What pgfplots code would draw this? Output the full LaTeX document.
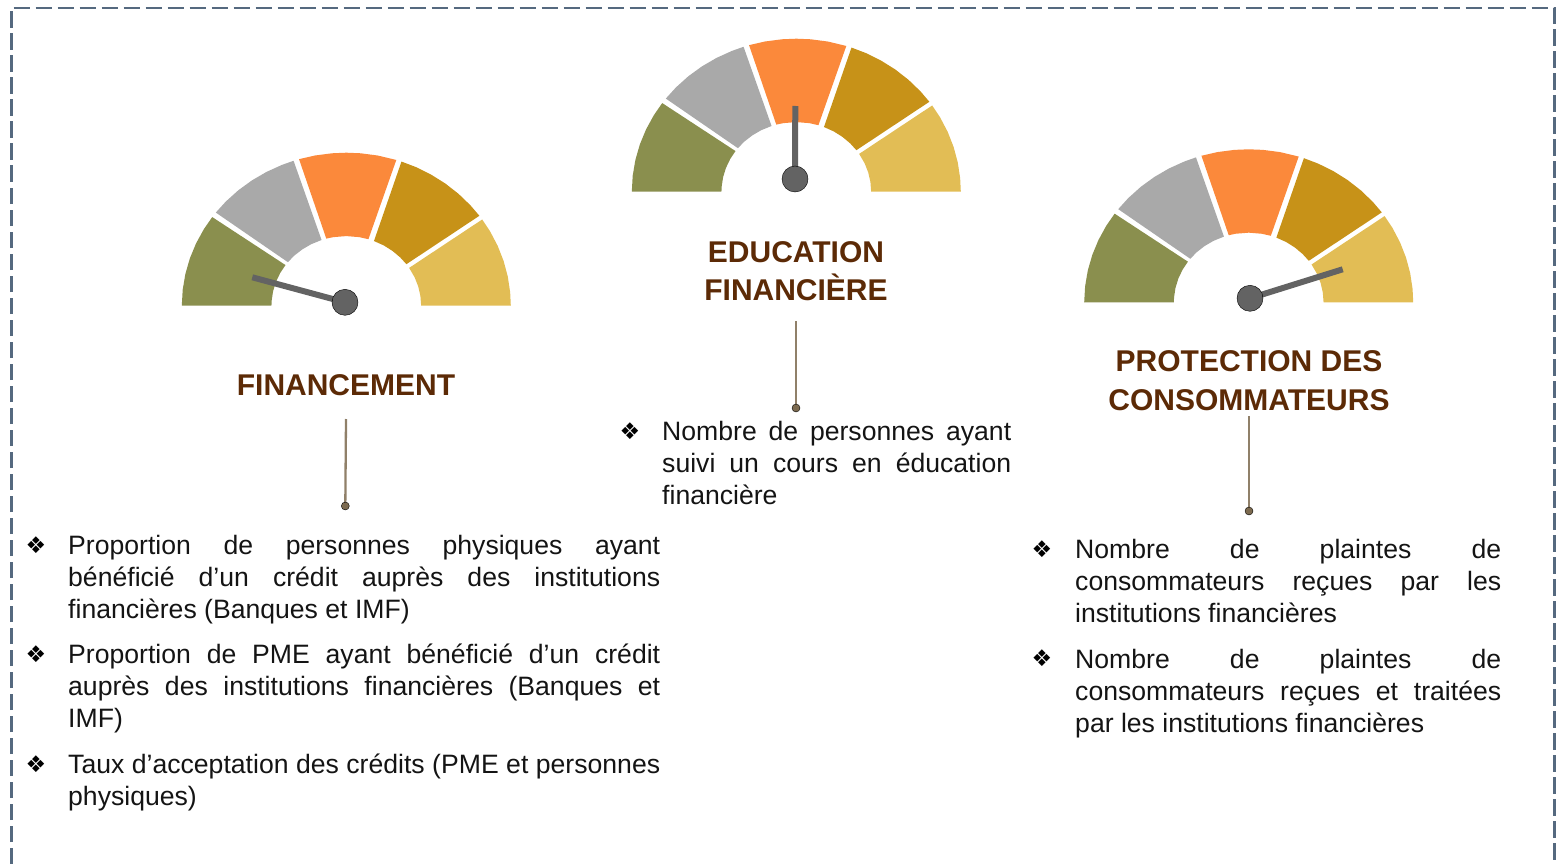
\documentclass[border=0pt]{standalone}
\usepackage{fontspec}
\setmainfont{Liberation Sans}
\newfontfamily\symfont{DejaVu Sans}
\usepackage{pgfplots}
\usepackage{pgfplotstable}
\pgfplotsset{compat=1.18}

\definecolor{sOlive}{HTML}{8A8F4E}
\definecolor{sGray}{HTML}{A9A9A9}
\definecolor{sOrange}{HTML}{FB893B}
\definecolor{sDark}{HTML}{C79218}
\definecolor{sGold}{HTML}{E2BD55}
\definecolor{needle}{HTML}{636363}
\definecolor{frame}{HTML}{55697F}
\definecolor{titlec}{HTML}{5C2A06}
\definecolor{stem}{HTML}{7C6A4F}

% segments: angle on the dial, radius as share of the outer radius
\pgfplotstableread{
t r
180 1
174 1
168 1
162 1
156 1
150 1
144.6 1
144.3 .455
152 .455
160 .455
168 .455
176 .455
180 .455
}\segA
\pgfplotstableread{
t r
142.5 1
137 1
131 1
125 1
119 1
113 1
108.7 1
109.3 .455
118 .455
126 .455
134 .455
141.3 .455
}\segB
\pgfplotstableread{
t r
106.7 1
101 1
95 1
90 1
85 1
79 1
72.3 1
72.8 .455
80 .455
90 .455
100 .455
105.5 .455
}\segC
\pgfplotstableread{
t r
70.4 1
65 1
59 1
53 1
47 1
41 1
36 1
36.6 .455
44 .455
52 .455
60 .455
68.3 .455
}\segD
\pgfplotstableread{
t r
34.3 1
29 1
23 1
17 1
11 1
5 1
0 1
0 .455
8 .455
16 .455
24 .455
32.9 .455
}\segE

\newcommand{\seg}[4]{% table, colour, cx, cy
  \addplot[fill=#2,draw=none,forget plot] table[
    x expr={#3+164.5*\thisrow{r}*cos(\thisrow{t})},
    y expr={#4-153*\thisrow{r}*sin(\thisrow{t})}] {#1} -- cycle;
}
\newcommand{\gauge}[2]{%
  \seg{\segA}{sOlive}{#1}{#2}
  \seg{\segB}{sGray}{#1}{#2}
  \seg{\segC}{sOrange}{#1}{#2}
  \seg{\segD}{sDark}{#1}{#2}
  \seg{\segE}{sGold}{#1}{#2}
}
\newcommand{\bodytext}[4]{% x, first baseline, width, text
  \node[anchor=base west,inner sep=0pt,text=black!92] at (axis cs:#1,#2)
    {\parbox[t]{#3pt}{\fontsize{26.6}{32}\selectfont #4\par}};
}
\newcommand{\puce}[2]{%
  \node[anchor=base,inner sep=0pt,text=black] at (axis cs:#1,#2)
    {\fontsize{23}{23}\symfont ❖};
}
\newcommand{\titre}[3]{%
  \node[anchor=base,inner sep=0pt,text=titlec] at (axis cs:#1,#2)
    {\fontsize{30}{30}\selectfont\bfseries #3};
}

\begin{document}
\begin{tikzpicture}
\begin{axis}[
    width=1556pt, height=864pt,
    scale only axis,
    hide axis,
    xmin=0, xmax=1556,
    ymin=0, ymax=864,
    y dir=reverse,
]
% keeps the page at the full size of the axis
\path (rel axis cs:0,0) rectangle (rel axis cs:1,1);
% dashed frame, open at the bottom
\addplot[frame,line width=2.5pt,dash pattern=on 16.5pt off 5.5pt] coordinates {
  (11.7,864) (11.7,8) (1554.3,8) (1554.3,864)};

\gauge{346.3}{305.7}
\gauge{796.3}{191.7}
\gauge{1248.7}{302.3}

% needles
\addplot[needle,line width=6pt] coordinates {(345,302.3) (252.3,277.3)};
\addplot[needle,line width=6pt] coordinates {(795,179) (795.3,106)};
\addplot[needle,line width=6pt] coordinates {(1250,298.3) (1342.7,269.3)};
\addplot[only marks,mark=*,mark size=13pt,mark options={fill=needle,draw=none}]
  coordinates {(345,302.3) (795,179) (1250,298.3)};

% stems under the titles
\addplot[stem!85,line width=2.3pt] coordinates {(346,419) (345.3,506)};
\addplot[stem!85,line width=2.3pt] coordinates {(796,321) (796,408)};
\addplot[stem!85,line width=2.3pt] coordinates {(1249,416) (1249,511)};
\addplot[only marks,mark=*,mark size=4pt,mark options={fill=stem,draw=none}]
  coordinates {(345.3,506) (796,408) (1249,511)};

\titre{346}{395.7}{FINANCEMENT}
\titre{796}{262}{EDUCATION}
\titre{796}{300}{FINANCIÈRE}
\titre{1249}{371.7}{PROTECTION DES}
\titre{1249}{410}{CONSOMMATEURS}

\puce{36}{553}
\puce{36}{662}
\puce{36}{772}
\puce{630}{439}
\puce{1042}{557}
\puce{1042}{666}

\bodytext{68}{554.3}{592}{Proportion de personnes physiques ayant\linebreak
  bénéficié d’un crédit auprès des institutions\linebreak
  financières (Banques et IMF)}
\bodytext{68}{663.5}{592}{Proportion de PME ayant bénéficié d’un crédit\linebreak
  auprès des institutions financières (Banques et\linebreak
  IMF)}
\bodytext{68}{773}{592}{Taux d’acceptation des crédits (PME et personnes\linebreak
  physiques)}
\bodytext{662}{440}{349}{Nombre de personnes ayant\linebreak
  suivi un cours en éducation\linebreak
  financière}
\bodytext{1075}{558}{426}{Nombre de plaintes de\linebreak
  consommateurs reçues par les\linebreak
  institutions financières}
\bodytext{1075}{668}{426}{Nombre de plaintes de\linebreak
  consommateurs reçues et traitées\linebreak
  par les institutions financières}
\end{axis}
\end{tikzpicture}
\end{document}
